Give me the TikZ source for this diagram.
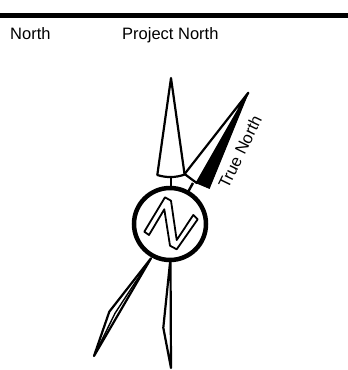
\documentclass[tikz,border=0pt]{standalone}
\usepackage{fontspec}
\setmainfont{Liberation Sans}
\begin{document}
\begin{tikzpicture}[x=1pt,y=-1pt]
    % 1. Page area
    \useasboundingbox (0, 0) rectangle (348, 370);
    \tikzset{
        needle/.style={draw=black, line width=2.2pt, fill=white, line join=round},
        stem/.style={draw=black, line width=2.4pt},
        lbl/.style={font=\fontsize{16.5}{18}\selectfont, inner sep=0pt, text=black}
    }

    % 2. Top rule
    \fill[black] (0, 12.5) rectangle (348, 17.5);

    % 3. Labels
    \node[lbl, anchor=base west] (northlbl) at (10, 39) {North};
    \node[lbl, anchor=base west] (projlbl) at (122, 39) {Project North};
    \node[lbl, rotate=64, anchor=base west] (truelbl) at (228, 190) {True North};

    % 4. Main points
    \coordinate (mcen) at (170, 224);
    \coordinate (ptip) at (171, 78);
    \coordinate (ttip) at (248.3, 92.7);
    \coordinate (ltop) at (151, 258.3);
    \coordinate (ltip) at (94, 356);

    % 5. Project needle
    \draw[stem] (171, 177) -- (171, 190);
    \draw[needle] (ptip) -- (157.3, 175) .. controls (166, 177.8) and (176, 177.8) .. (184.6, 174.5) -- cycle;

    % 6. True needle
    \draw[stem] (193, 183) -- (188, 192);
    \draw[needle] (ttip) -- (184.6, 174) -- (196.7, 183) -- cycle;
    \fill[black, draw=black, line width=1pt, line join=round] (ttip) -- (196.7, 183) -- (209.3, 188.3) -- cycle;

    % 7. Lower needles
    \draw[needle] (ltop) -- (109.3, 311.7) -- (ltip) -- cycle;
    \draw[black, line width=1.4pt] (ltop) -- (115, 313.3) -- (ltip);
    \draw[needle] (170.5, 258) -- (163.3, 327.7) -- (171, 368) -- cycle;

    % 8. Ring
    \draw[black, line width=4.5pt, fill=white] (mcen) circle (36);

    % 9. Letter
    \draw[black, line width=1.8pt, line join=round]
        (144.3, 231.7) -- (165, 197.3) -- (171, 200.7) -- (176.7, 240) -- (193.3, 215) -- (197.7, 219.3)
        -- (176.7, 249.3) -- (170, 245.7) -- (164.3, 209.3) -- (149, 235) -- cycle;
\end{tikzpicture}
\end{document}
